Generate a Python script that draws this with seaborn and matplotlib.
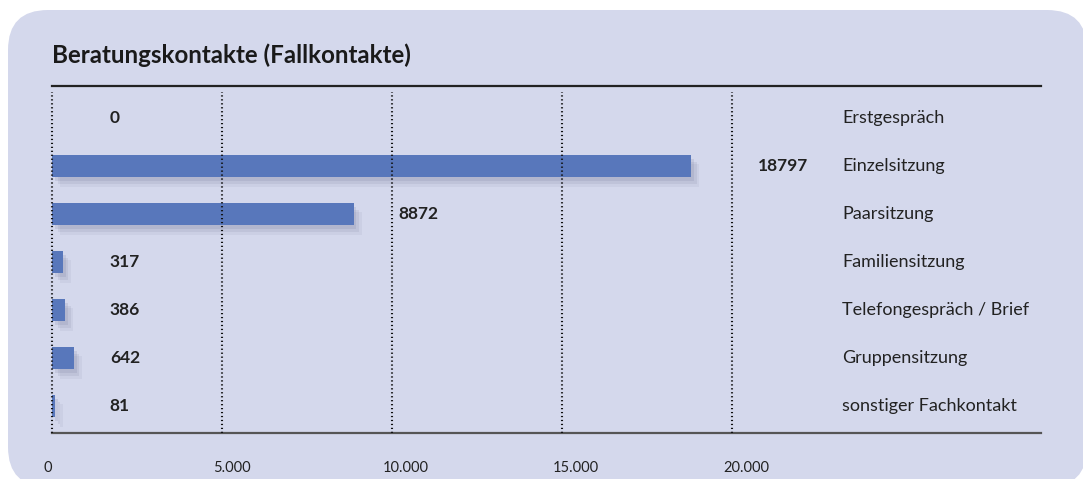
import matplotlib
matplotlib.use("Agg")
import matplotlib.pyplot as plt
import matplotlib.patheffects as pe
import matplotlib.transforms as mtransforms
from matplotlib.patches import FancyBboxPatch
import seaborn as sns
import pandas as pd

categories = ["Erstgespräch", "Einzelsitzung", "Paarsitzung", "Familiensitzung",
              "Telefongespräch / Brief", "Gruppensitzung", "sonstiger Fachkontakt"]
values = [0, 18797, 8872, 317, 386, 642, 81]
tick_values = [0, 5000, 10000, 15000, 20000]
tick_labels = ["0", "5.000", "10.000", "15.000", "20.000"]
title = "Beratungskontakte (Fallkontakte)"

df = pd.DataFrame({"cat": categories, "val": values})

sns.set_theme(style="white")
plt.rcParams["font.family"] = ["Lato", "DejaVu Sans"]

W, H = 1083, 479
fig = plt.figure(figsize=(W / 100, H / 100), dpi=100)
fig.patch.set_facecolor("white")

bg = "#d4d8ec"
panel = FancyBboxPatch((8 + 40, H - 487 + 40), 1087 - 8 - 80, 487 - 10 - 80,
                       boxstyle="round,pad=40", transform=None,
                       facecolor=bg, edgecolor="none", zorder=-5)
fig.patches.append(panel)

left, right, top, bottom = 52, 1041, 86, 433
ax = fig.add_axes([left / W, (H - bottom) / H, (right - left) / W, (bottom - top) / H])
ax.set_facecolor("none")
ax.set_zorder(2)

scale = 0.034  # px per unit
xmax = (right - left) / scale

sns.barplot(data=df, x="val", y="cat", orient="h", color="#5877bb",
            width=0.47, ax=ax, saturation=1, zorder=3)

shadow = [pe.SimplePatchShadow(offset=(2, -3), shadow_rgbFace="#7d82a0", alpha=0.18),
          pe.SimplePatchShadow(offset=(4, -5), shadow_rgbFace="#7d82a0", alpha=0.15),
          pe.SimplePatchShadow(offset=(6, -7), shadow_rgbFace="#7d82a0", alpha=0.10),
          pe.Normal()]
for p in ax.patches:
    p.set_path_effects(shadow)
    p.set_edgecolor("none")

ax.set_xlim(0, xmax)
ax.set_ylim(len(categories) - 1 + 0.5625, -0.667)

for t in tick_values:
    ax.axvline(t, ymin=0, ymax=0.983, color="#111111", lw=1.5,
               linestyle=(0, (0.6, 1.3)), zorder=5, clip_on=False)

ax.set_xticks(tick_values)
ax.set_xticklabels(tick_labels, fontsize=10.5, color="#222222")
ax.tick_params(axis="x", length=0, pad=20)
shift = mtransforms.ScaledTranslation(-9 / 100, 0, fig.dpi_scale_trans)
for lab in ax.get_xticklabels():
    lab.set_horizontalalignment("left")
    lab.set_transform(lab.get_transform() + shift)
ax.set_yticks([])
ax.set_xlabel("")
ax.set_ylabel("")

for s in ["left", "right"]:
    ax.spines[s].set_visible(False)
ax.spines["top"].set_color("#222222")
ax.spines["top"].set_linewidth(1.6)
ax.spines["bottom"].set_color("#555555")
ax.spines["bottom"].set_linewidth(1.6)

for i, v in enumerate(values):
    if v < 1500:
        lx = 1700
    elif v > 15000:
        lx = 20750
    else:
        lx = 10200
    ax.text(lx, i, str(v), ha="left", va="center", fontsize=12.5,
            fontweight="bold", color="#222222", zorder=4)
    ax.text(0.799, i, categories[i], transform=ax.get_yaxis_transform(),
            ha="left", va="center", fontsize=13, color="#222222")

fig.text(52 / W, (H - 55) / H, title, fontsize=17.4, fontweight="bold",
         color="#1a1a1a", ha="left", va="center")

fig.savefig("out.png", dpi=100, facecolor="white")
